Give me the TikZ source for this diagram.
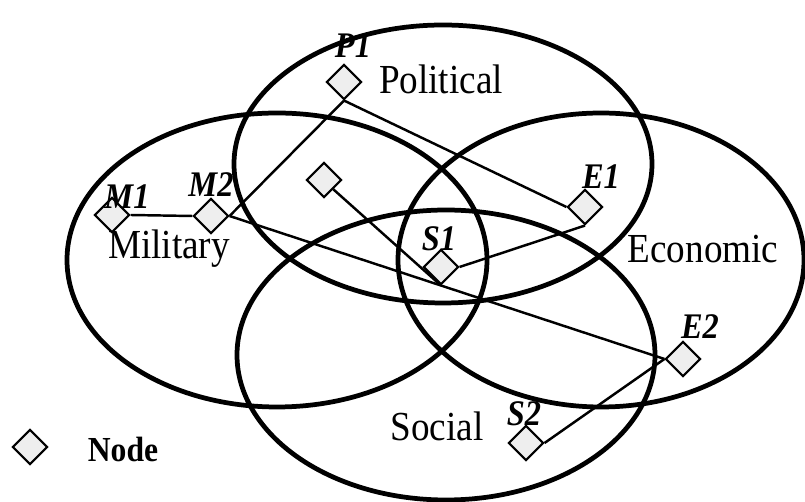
\documentclass[tikz,border=0pt]{standalone}
\usepackage{fontspec}
\setmainfont{Liberation Serif}
\newfontfamily\narrowserif[FakeStretch=0.9]{Liberation Serif}
\definecolor{hubgray}{RGB}{238,238,238}
\usetikzlibrary{shapes.geometric}

\tikzset{
  domainring/.style={line width=2.7pt},
  hub/.style={diamond, draw, line width=1.2pt, fill=hubgray, inner sep=0pt, minimum size=0.7cm},
  linkline/.style={line width=1.4pt},
  arealabel/.style={font=\narrowserif\fontsize{23.5}{26}\selectfont},
  nodetag/.style={font=\narrowserif\fontsize{20.5}{23}\selectfont\bfseries\itshape},
}

\begin{document}
\begin{tikzpicture}[x=0.02cm, y=-0.02cm]
  \useasboundingbox (0,0) rectangle (805,502);

  % the four domains
  \draw[domainring] (443,164) ellipse [x radius=209, y radius=139];
  \draw[domainring] (277,260) ellipse [x radius=210, y radius=147];
  \draw[domainring] (601,260) ellipse [x radius=203, y radius=147];
  \draw[domainring] (446,355) ellipse [x radius=209, y radius=145];

  \node[arealabel] (political) at (441,79) {Political};
  \node[arealabel] (military) at (169,249) {Military};
  \node[arealabel] (economic) at (703,249) {Economic};
  \node[arealabel] (social) at (437,426) {Social};

  % nodes
  \node[hub] (P1) at (344,82) {};
  \node[hub] (U1) at (324,180) {};
  \node[hub] (M1) at (112,215) {};
  \node[hub] (M2) at (211,216) {};
  \node[hub] (E1) at (585,207) {};
  \node[hub] (S1) at (441,267) {};
  \node[hub] (E2) at (683,359) {};
  \node[hub] (S2) at (526,443) {};

  \node[nodetag] at (353,46) {P1};
  \node[nodetag] at (127,197) {M1};
  \node[nodetag] at (211,185) {M2};
  \node[nodetag] at (601,177) {E1};
  \node[nodetag] at (439,239) {S1};
  \node[nodetag] at (700,327) {E2};
  \node[nodetag] at (524,414) {S2};

  % links
  \draw[linkline] (M1.east) -- (M2.west);
  \draw[linkline] (M2.east) -- (P1.south);
  \draw[linkline] (P1.south) -- (E1.west);
  \draw[linkline] (E1.south) -- (S1.east);
  \draw[linkline] (U1.south east) -- (S1.south);
  \draw[linkline] (M2.east) -- (E2.west);
  \draw[linkline] (E2.west) -- (S2.east);

  % legend
  \node[hub] (legend) at (30,447) {};
  \node[font=\narrowserif\fontsize{20}{22}\selectfont\bfseries] (legendtext) at (123,449) {Node};
\end{tikzpicture}
\end{document}
